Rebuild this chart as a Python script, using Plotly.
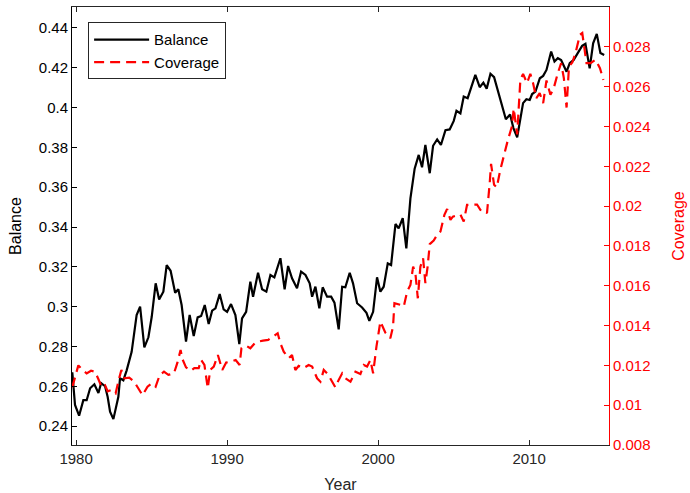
import plotly.graph_objects as go

# ---------------- data ----------------
balance_year = [1979.75, 1979.93, 1980.20, 1980.48, 1980.70, 1980.93, 1981.21, 1981.48, 1981.66, 1981.92,
                1982.09, 1982.25, 1982.47, 1982.80, 1982.91, 1983.13, 1983.35, 1983.68, 1984.01, 1984.24,
                1984.52, 1984.79, 1985.01, 1985.27, 1985.50, 1985.78, 1986.00, 1986.26, 1986.56, 1986.77,
                1986.99, 1987.28, 1987.52, 1987.79, 1988.05, 1988.28, 1988.52, 1988.78, 1989.01, 1989.23,
                1989.51, 1989.77, 1990.00, 1990.26, 1990.55, 1990.81, 1990.99, 1991.26, 1991.54, 1991.72,
                1992.05, 1992.32, 1992.60, 1992.87, 1993.13, 1993.53, 1993.81, 1994.04, 1994.30, 1994.52,
                1994.63, 1994.90, 1995.19, 1995.47, 1995.63, 1995.85, 1996.11, 1996.33, 1996.62, 1996.89,
                1997.11, 1997.39, 1997.62, 1997.83, 1998.12, 1998.34, 1998.61, 1998.94, 1999.23, 1999.42,
                1999.67, 1999.93, 2000.15, 2000.37, 2000.64, 2000.86, 2001.15, 2001.36, 2001.63, 2001.87,
                2002.14, 2002.42, 2002.69, 2002.91, 2003.13, 2003.42, 2003.64, 2003.91, 2004.16, 2004.46,
                2004.74, 2005.01, 2005.19, 2005.45, 2005.67, 2005.93, 2006.16, 2006.44, 2006.73, 2006.97,
                2007.19, 2007.44, 2007.68, 2007.99, 2008.21, 2008.46, 2008.74, 2008.96, 2009.21, 2009.40,
                2009.60, 2009.82, 2010.04, 2010.20, 2010.42, 2010.71, 2010.93, 2011.15, 2011.46, 2011.68,
                2011.90, 2012.12, 2012.48, 2012.69, 2012.95, 2013.22, 2013.51, 2013.73, 2014.01, 2014.24,
                2014.48, 2014.72, 2014.97]
balance = [0.2670, 0.2506, 0.2452, 0.2530, 0.2530, 0.2590, 0.2610, 0.2566, 0.2616, 0.2600,
           0.2547, 0.2472, 0.2435, 0.2547, 0.2640, 0.2630, 0.2680, 0.2773, 0.2958, 0.3000,
           0.2795, 0.2846, 0.2949, 0.3117, 0.3036, 0.3075, 0.3209, 0.3180, 0.3070, 0.3087,
           0.3008, 0.2824, 0.2958, 0.2852, 0.2946, 0.2953, 0.3008, 0.2913, 0.2980, 0.2991,
           0.3063, 0.2986, 0.2974, 0.3013, 0.2958, 0.2812, 0.2941, 0.2974, 0.3125, 0.3050,
           0.3170, 0.3087, 0.3075, 0.3159, 0.3147, 0.3243, 0.3087, 0.3204, 0.3142, 0.3109,
           0.3092, 0.3176, 0.3159, 0.3117, 0.3050, 0.3100, 0.2991, 0.3097, 0.3050, 0.3050,
           0.3020, 0.2886, 0.3100, 0.3097, 0.3170, 0.3117, 0.3017, 0.2996, 0.2969, 0.2929,
           0.2974, 0.3147, 0.3075, 0.3100, 0.3217, 0.3209, 0.3415, 0.3393, 0.3444, 0.3293,
           0.3544, 0.3693, 0.3762, 0.3700, 0.3812, 0.3670, 0.3808, 0.3840, 0.3812, 0.3886,
           0.3890, 0.3933, 0.3984, 0.3971, 0.4055, 0.4047, 0.4105, 0.4164, 0.4102, 0.4125,
           0.4095, 0.4170, 0.4153, 0.4070, 0.4013, 0.3941, 0.3965, 0.3897, 0.3851, 0.3930,
           0.4022, 0.4042, 0.4038, 0.4068, 0.4080, 0.4147, 0.4159, 0.4189, 0.4281, 0.4231,
           0.4248, 0.4239, 0.4180, 0.4223, 0.4239, 0.4273, 0.4310, 0.4320, 0.4197, 0.4323,
           0.4370, 0.4274, 0.4264]

coverage_year = [1979.75, 1980.00, 1980.15, 1980.42, 1980.70, 1980.99, 1981.26, 1981.48, 1981.70, 1981.92,
                 1982.09, 1982.35, 1982.62, 1982.85, 1983.00, 1983.20, 1983.52, 1983.85, 1984.18, 1984.40,
                 1984.73, 1985.01, 1985.27, 1985.54, 1985.82, 1986.11, 1986.48, 1986.70, 1986.92, 1987.05,
                 1987.28, 1987.61, 1987.83, 1988.12, 1988.28, 1988.50, 1988.72, 1988.88, 1989.12, 1989.39,
                 1989.68, 1989.94, 1990.28, 1990.57, 1990.83, 1990.95, 1991.28, 1991.54, 1991.83, 1992.05,
                 1992.38, 1992.72, 1993.20, 1993.35, 1993.53, 1993.75, 1994.08, 1994.30, 1994.52, 1994.74,
                 1995.07, 1995.40, 1995.63, 1995.96, 1996.18, 1996.40, 1996.66, 1996.95, 1997.17, 1997.39,
                 1997.62, 1997.83, 1998.17, 1998.50, 1998.83, 1999.05, 1999.27, 1999.49, 1999.67, 1999.89,
                 2000.04, 2000.15, 2000.48, 2000.81, 2000.99, 2001.08, 2001.48, 2001.70, 2001.92, 2002.14,
                 2002.32, 2002.47, 2002.63, 2002.80, 2002.98, 2003.13, 2003.28, 2003.42, 2003.68, 2003.91,
                 2004.13, 2004.39, 2004.57, 2004.79, 2004.95, 2005.45, 2005.67, 2005.89, 2006.55, 2006.77,
                 2007.10, 2007.21, 2007.39, 2007.48, 2007.68, 2007.86, 2008.08, 2008.32, 2008.57, 2008.86,
                 2008.98, 2009.21, 2009.42, 2009.60, 2009.86, 2010.08, 2010.26, 2010.48, 2010.70, 2010.93,
                 2011.15, 2011.41, 2011.63, 2011.90, 2012.12, 2012.30, 2012.48, 2012.64, 2012.86, 2013.07,
                 2013.36, 2013.52, 2013.80, 2014.07, 2014.40, 2014.69, 2014.92]
coverage = [0.01090, 0.01160, 0.01200, 0.01177, 0.01160, 0.01173, 0.01168, 0.01130, 0.01090, 0.01100,
            0.01070, 0.01077, 0.01060, 0.01135, 0.01177, 0.01135, 0.01138, 0.01118, 0.01077, 0.01050,
            0.01093, 0.01110, 0.01093, 0.01152, 0.01168, 0.01152, 0.01160, 0.01211, 0.01277, 0.01230,
            0.01190, 0.01173, 0.01186, 0.01186, 0.01227, 0.01202, 0.01085, 0.01177, 0.01194, 0.01252,
            0.01177, 0.01214, 0.01219, 0.01227, 0.01202, 0.01286, 0.01298, 0.01286, 0.01311, 0.01319,
            0.01324, 0.01328, 0.01353, 0.01361, 0.01311, 0.01269, 0.01236, 0.01252, 0.01177, 0.01197,
            0.01186, 0.01202, 0.01194, 0.01135, 0.01118, 0.01177, 0.01157, 0.01118, 0.01090, 0.01127,
            0.01160, 0.01135, 0.01118, 0.01168, 0.01157, 0.01202, 0.01194, 0.01227, 0.01160, 0.01294,
            0.01378, 0.01420, 0.01364, 0.01336, 0.01395, 0.01512, 0.01504, 0.01495, 0.01570, 0.01604,
            0.01696, 0.01663, 0.01537, 0.01696, 0.01738, 0.01613, 0.01696, 0.01809, 0.01827, 0.01855,
            0.01872, 0.01956, 0.01985, 0.01931, 0.01947, 0.01958, 0.01922, 0.02006, 0.02008, 0.01981,
            0.01975, 0.01964, 0.02115, 0.02212, 0.02107, 0.02094, 0.02178, 0.02258, 0.02325, 0.02400,
            0.02490, 0.02360, 0.02634, 0.02664, 0.02618, 0.02664, 0.02618, 0.02542, 0.02567, 0.02517,
            0.02631, 0.02559, 0.02592, 0.02668, 0.02718, 0.02643, 0.02495, 0.02701, 0.02721, 0.02768,
            0.02860, 0.02869, 0.02718, 0.02718, 0.02735, 0.02693, 0.02634]

x_tickvals = [1980, 1990, 2000, 2010]
left_tickvals = [0.24, 0.26, 0.28, 0.30, 0.32, 0.34, 0.36, 0.38, 0.40, 0.42, 0.44]
left_ticktext = ["0.24", "0.26", "0.28", "0.3", "0.32", "0.34", "0.36", "0.38", "0.4", "0.42", "0.44"]
right_tickvals = [0.008, 0.010, 0.012, 0.014, 0.016, 0.018, 0.020, 0.022, 0.024, 0.026, 0.028]
right_ticktext = ["0.008", "0.01", "0.012", "0.014", "0.016", "0.018", "0.02", "0.022", "0.024", "0.026", "0.028"]

FONT = "Liberation Sans, Arial, sans-serif"
DARK = "#262626"
RED = "#ff0000"

fig = go.Figure()
fig.add_trace(go.Scatter(x=balance_year, y=balance, mode="lines", name="Balance",
                         line=dict(color="black", width=2.2)))
fig.add_trace(go.Scatter(x=coverage_year, y=coverage, mode="lines", name="Coverage",
                         yaxis="y2", line=dict(color=RED, width=2.2, dash="10px,6px")))

fig.update_layout(
    width=690, height=493,
    margin=dict(l=72, r=81, t=7, b=48),
    paper_bgcolor="white", plot_bgcolor="white",
    font=dict(family=FONT, size=15, color=DARK),
    showlegend=True,
    legend=dict(x=0.03, y=0.965, xanchor="left", yanchor="top",
                bgcolor="white", bordercolor=DARK, borderwidth=1,
                font=dict(size=15, color="black"), tracegroupgap=0,
                itemwidth=55),
    xaxis=dict(range=[1979.73, 2015.29], tickvals=x_tickvals, automargin=False,
               ticks="inside", ticklen=5, tickcolor=DARK, tickwidth=1,
               showline=True, linecolor=DARK, linewidth=1, mirror="ticks",
               showgrid=False, zeroline=False,
               title=dict(text="Year", standoff=17, font=dict(size=16, color=DARK)),
               tickfont=dict(size=15, color=DARK)),
    yaxis=dict(range=[0.2305, 0.4505], tickvals=left_tickvals, ticktext=left_ticktext,
               automargin=False,
               ticks="inside", ticklen=5, tickcolor="black", tickwidth=1,
               showline=True, linecolor="black", linewidth=1,
               showgrid=False, zeroline=False,
               title=dict(text="Balance", standoff=13, font=dict(size=16, color="black")),
               tickfont=dict(size=15, color="black")),
    yaxis2=dict(range=[0.0080, 0.0300], tickvals=right_tickvals, ticktext=right_ticktext,
                overlaying="y", side="right", automargin=False,
                ticks="inside", ticklen=5, tickcolor=RED, tickwidth=1,
                showline=True, linecolor=RED, linewidth=1,
                showgrid=False, zeroline=False,
                title=dict(text="Coverage", standoff=23, font=dict(size=16, color=RED)),
                tickfont=dict(size=15, color=RED)),
)

fig.write_html("out.html")
